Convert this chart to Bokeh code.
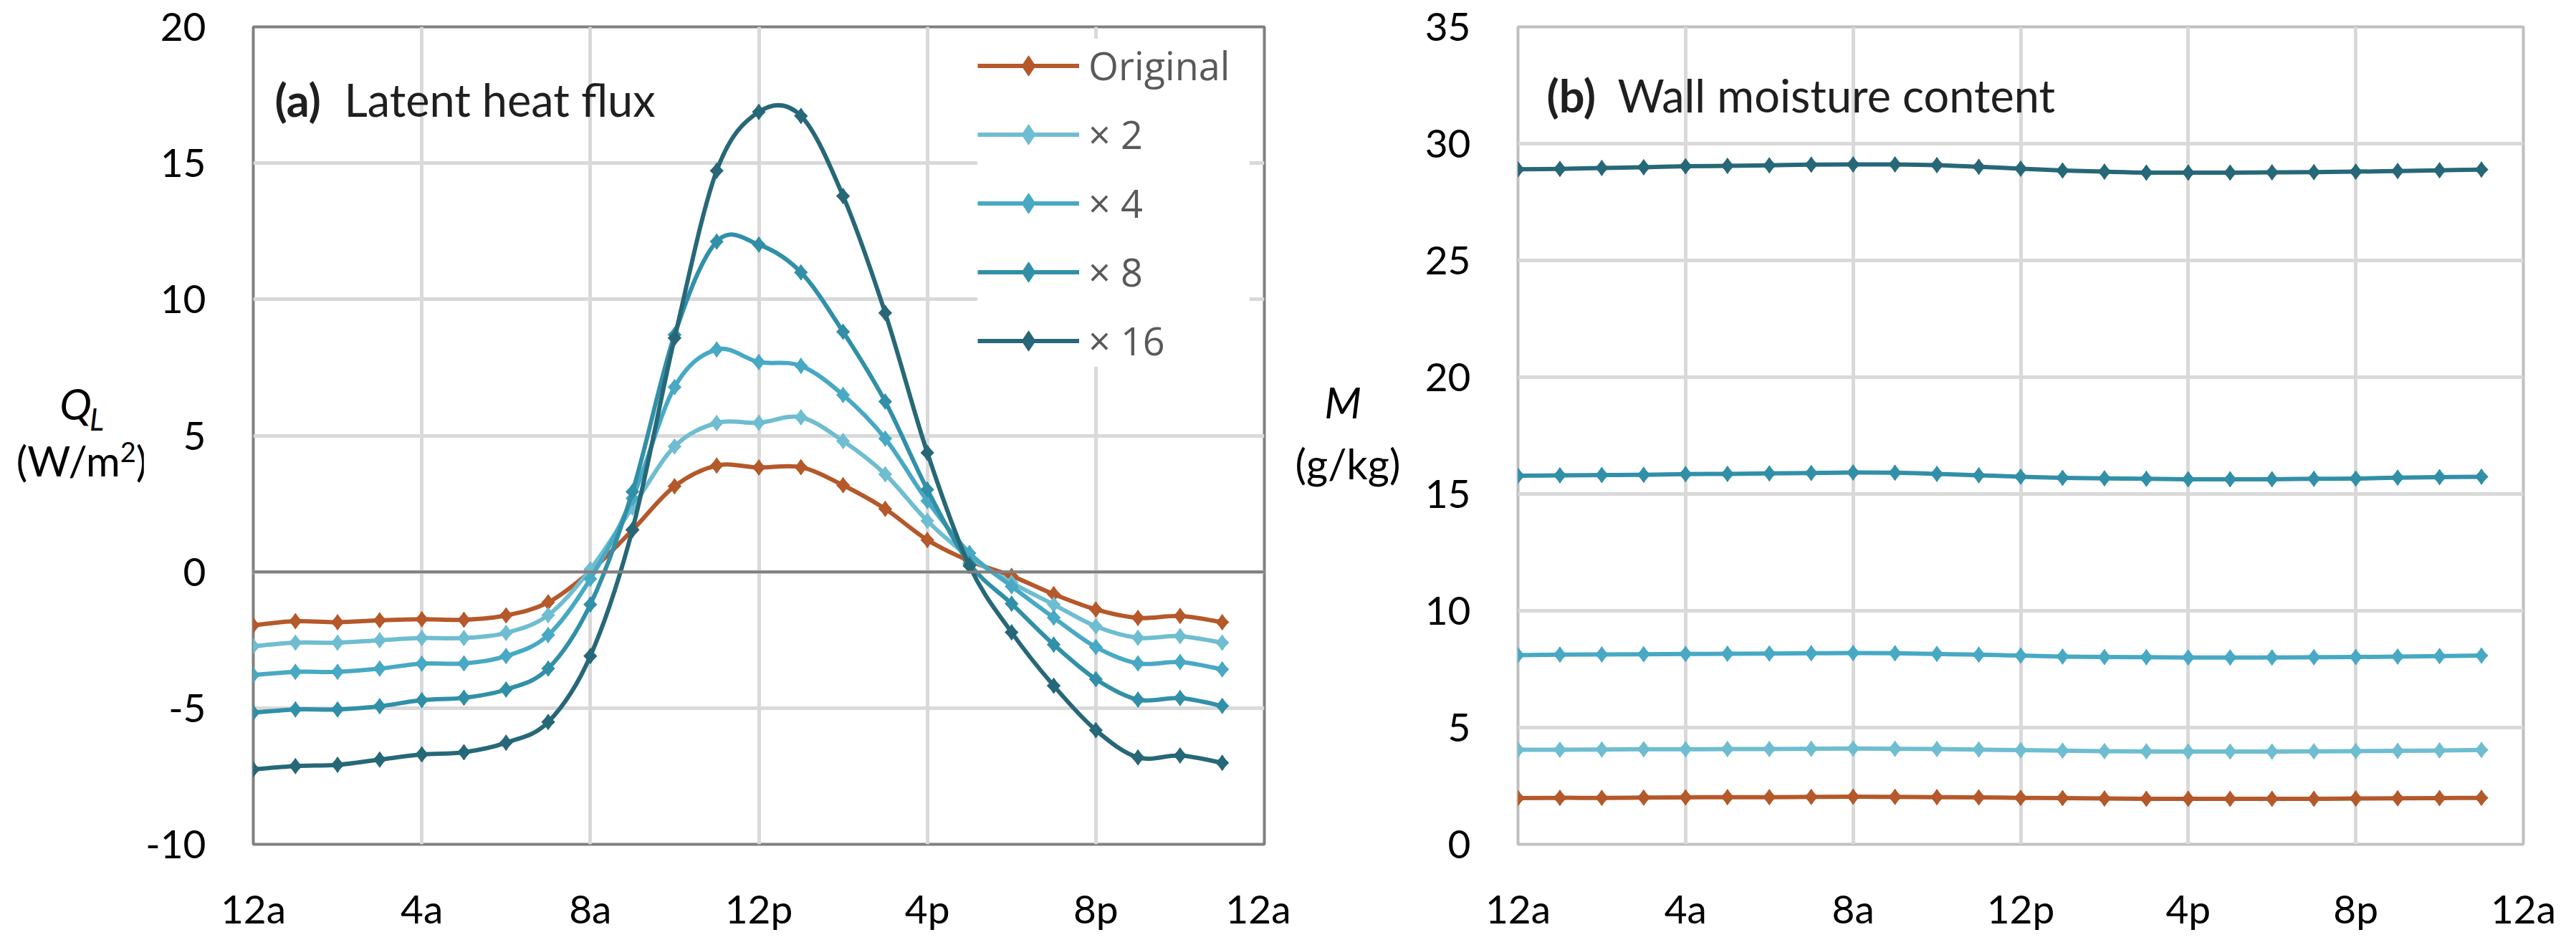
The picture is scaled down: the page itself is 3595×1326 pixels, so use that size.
from math import pi

from bokeh.embed import file_html
from bokeh.layouts import row
from bokeh.models import Div, FixedTicker, Label, Legend, LegendItem, Range1d, Span
from bokeh.plotting import figure
from bokeh.resources import INLINE

# hour of day, 0 = 12a
hours = list(range(24))

hour_ticks = [0, 4, 8, 12, 16, 20, 24]
hour_labels = ["12a", "4a", "8a", "12p", "4p", "8p", "12a"]

series_names = ["Original", "× 2", "× 4", "× 8", "× 16"]
series_colors = ["#b5582a", "#6fbdd1", "#47a9c4", "#3190a8", "#276878"]

# (a) latent heat flux, W/m2
flux_orig = [-1.96, -1.81, -1.85, -1.78, -1.74, -1.76, -1.60, -1.12, 0.02, 1.53, 3.14, 3.90,
             3.83, 3.84, 3.18, 2.31, 1.17, 0.40, -0.15, -0.82, -1.38, -1.69, -1.62, -1.85]
flux_x2 = [-2.73, -2.60, -2.60, -2.51, -2.43, -2.43, -2.24, -1.59, 0.09, 2.36, 4.60, 5.46,
           5.47, 5.67, 4.80, 3.58, 1.87, 0.55, -0.40, -1.20, -2.00, -2.42, -2.36, -2.60]
flux_x4 = [-3.79, -3.67, -3.67, -3.55, -3.37, -3.36, -3.09, -2.32, -0.26, 2.70, 6.78, 8.16,
           7.70, 7.56, 6.49, 4.89, 2.60, 0.69, -0.53, -1.68, -2.76, -3.36, -3.31, -3.58]
flux_x8 = [-5.17, -5.05, -5.05, -4.93, -4.71, -4.62, -4.32, -3.55, -1.20, 2.94, 8.70, 12.12,
           12.01, 10.99, 8.81, 6.25, 3.02, 0.30, -1.17, -2.67, -3.94, -4.69, -4.63, -4.92]
flux_x16 = [-7.25, -7.13, -7.08, -6.89, -6.70, -6.62, -6.27, -5.51, -3.09, 1.55, 8.58, 14.72,
            16.88, 16.73, 13.79, 9.50, 4.37, 0.22, -2.22, -4.18, -5.81, -6.81, -6.74, -7.01]

# (b) wall moisture content, g/kg
moist_orig = [1.98, 1.99, 1.99, 2.00, 2.01, 2.02, 2.02, 2.03, 2.04, 2.03, 2.02, 2.01,
              1.99, 1.98, 1.96, 1.95, 1.95, 1.95, 1.95, 1.95, 1.96, 1.97, 1.98, 1.99]
moist_x2 = [4.05, 4.05, 4.06, 4.07, 4.07, 4.08, 4.08, 4.09, 4.10, 4.09, 4.08, 4.06,
            4.03, 4.01, 3.99, 3.98, 3.97, 3.97, 3.97, 3.98, 3.99, 4.00, 4.02, 4.04]
moist_x4 = [8.10, 8.12, 8.13, 8.14, 8.15, 8.16, 8.17, 8.18, 8.19, 8.18, 8.15, 8.12,
            8.08, 8.04, 8.02, 8.01, 8.00, 8.00, 8.00, 8.01, 8.02, 8.04, 8.06, 8.08]
moist_x8 = [15.78, 15.80, 15.81, 15.82, 15.85, 15.86, 15.88, 15.90, 15.92, 15.91, 15.86, 15.80,
            15.74, 15.69, 15.67, 15.65, 15.63, 15.63, 15.63, 15.65, 15.66, 15.70, 15.72, 15.74]
moist_x16 = [28.90, 28.92, 28.96, 28.99, 29.03, 29.05, 29.07, 29.10, 29.11, 29.11, 29.08, 29.01,
             28.93, 28.85, 28.80, 28.76, 28.76, 28.76, 28.77, 28.78, 28.80, 28.83, 28.86, 28.89]

FONT = "Lato"


def smooth(xs, ys):
    # bezier control points for an excel-like smoothed line
    n = len(xs)
    seg = dict(x0=[], y0=[], x1=[], y1=[], cx0=[], cy0=[], cx1=[], cy1=[])
    for i in range(n - 1):
        xp, yp = (xs[i - 1], ys[i - 1]) if i > 0 else (xs[i], ys[i])
        xn, yn = (xs[i + 2], ys[i + 2]) if i + 2 < n else (xs[i + 1], ys[i + 1])
        seg["x0"].append(xs[i])
        seg["y0"].append(ys[i])
        seg["x1"].append(xs[i + 1])
        seg["y1"].append(ys[i + 1])
        seg["cx0"].append(xs[i] + (xs[i + 1] - xp) / 6)
        seg["cy0"].append(ys[i] + (ys[i + 1] - yp) / 6)
        seg["cx1"].append(xs[i + 1] - (xn - xs[i]) / 6)
        seg["cy1"].append(ys[i + 1] - (yn - ys[i]) / 6)
    return seg


def make_fig(y0, y1, border_left, border_right, border_top, border_bottom, frame_w, outline):
    p = figure(
        frame_width=frame_w, frame_height=1141,
        x_range=Range1d(0, 24), y_range=Range1d(y0, y1),
        min_border_left=border_left, min_border_right=border_right,
        min_border_top=border_top, min_border_bottom=border_bottom,
        output_backend="svg", toolbar_location=None,
    )
    p.outline_line_color = outline
    p.outline_line_width = 4
    p.xaxis.ticker = FixedTicker(ticks=hour_ticks)
    p.xaxis.major_label_overrides = dict(zip(hour_ticks, hour_labels))
    yt = list(range(int(y0), int(y1) + 1, 5))
    p.yaxis.ticker = FixedTicker(ticks=yt)
    p.yaxis.major_label_overrides = {t: str(t) for t in yt}
    for ax in (p.xaxis[0], p.yaxis[0]):
        ax.axis_line_color = None
        ax.major_tick_line_color = None
        ax.minor_tick_line_color = None
        ax.major_label_text_font = FONT
        ax.major_label_text_font_size = "55px"
        ax.major_label_text_color = "#000000"
    p.xaxis.major_label_standoff = 50
    p.yaxis.major_label_standoff = 60
    p.xgrid.ticker = FixedTicker(ticks=hour_ticks)
    p.ygrid.ticker = FixedTicker(ticks=yt)
    p.grid.grid_line_color = "#d9d9d9"
    p.grid.grid_line_width = 5
    return p


def add_series(p, series):
    items = []
    for vals, name, color in zip(series, series_names, series_colors):
        line = p.bezier(line_color=color, line_width=6, **smooth(hours, vals))
        # excel-style diamond: a turned square plus a tall diamond
        p.scatter(hours, vals, marker="square", angle=pi / 4, size=13,
                  fill_color=color, line_color=color)
        key = p.scatter(hours, vals, marker="diamond", size=22,
                        fill_color=color, line_color=color)
        items.append(LegendItem(label=name, renderers=[line, key]))
    return items


def add_title(p, x_off, y, bold, rest, gap):
    for text, style, off in ((bold, "bold", 0), (rest, "normal", gap)):
        p.add_layout(Label(x=0, y=y, x_offset=x_off + off, text=text, text_font=FONT,
                           text_font_size="63px", text_font_style=style,
                           text_baseline="alphabetic", text_color="#1f1f1f"))


def axis_title(width, lines):
    # lines: (top px, centre px, html)
    html = "".join(
        f'<div style="position:absolute; top:{top}px; left:0; width:{2 * c}px; '
        f'text-align:center; line-height:1; white-space:nowrap;">{h}</div>'
        for top, c, h in lines
    )
    return Div(
        text=f'<div style="position:relative; width:{width}px; height:1310px; '
             f'font-family:{FONT}; color:#000;">{html}</div>',
        width=width, height=1310, margin=(0, 0, 0, 0),
    )


# (a)
pa = make_fig(-10, 20, 152, 37, 33, 136, 1411, "#808080")
pa.add_layout(Span(location=0, dimension="width", line_color="#808080", line_width=4))
items_a = add_series(pa, [flux_orig, flux_x2, flux_x4, flux_x8, flux_x16])
add_title(pa, 30, 17.35, "(a)", "Latent heat flux", 97)

lg = Legend(items=items_a, location=(1011, 666))
lg.margin = 0
lg.padding = 11
lg.glyph_width = 142
lg.glyph_height = 71
lg.label_height = 71
lg.label_width = 225
lg.spacing = 22
lg.label_standoff = 13
lg.label_text_font = "Open Sans"
lg.label_text_font_size = "54px"
lg.label_text_color = "#595959"
lg.background_fill_color = "white"
lg.background_fill_alpha = 1
lg.border_line_color = None
pa.add_layout(lg)

div_a = axis_title(200, [
    (533, 114, '<span style="font-size:60px; font-style:italic;">Q</span>'
               '<span style="font-size:42px; font-style:italic; position:relative; top:15px; '
               'margin-left:-3px;">L</span>'),
    (614, 114, '<span style="font-size:58px;">(W/m<span style="font-size:38px; '
               'position:relative; top:-20px;">2</span>)</span>'),
])

# (b)
pb = make_fig(0, 35, 137, 59, 37, 132, 1403, "#bfbfbf")
add_series(pb, [moist_orig, moist_x2, moist_x4, moist_x8, moist_x16])
add_title(pb, 40, 32.1, "(b)", "Wall moisture content", 99)

div_b = axis_title(180, [
    (531, 73, '<span style="font-size:60px; font-style:italic;">M</span>'),
    (618, 80, '<span style="font-size:58px;">(g/kg)</span>'),
])

layout = row(div_a, pa, div_b, pb)
open("out.html", "w").write(file_html(layout, INLINE))
